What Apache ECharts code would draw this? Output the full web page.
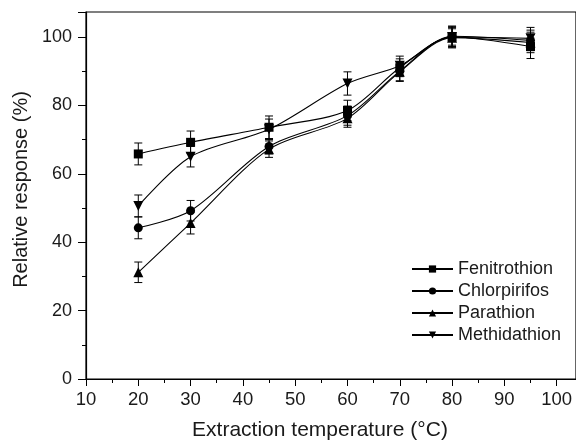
<!DOCTYPE html>
<html>
<head>
  <meta charset="UTF-8">
  <title>Extraction temperature</title>
  <script src="https://cdn.jsdelivr.net/npm/echarts@6/dist/echarts.min.js"></script>
  <style>
    html, body { margin: 0; padding: 0; background: #fff; }
    #main { width: 576px; height: 441px; }
  </style>
</head>
<body>
<div id="main"></div>
<script type="text/javascript">
  // temperatures (°C)
  var temps = [20, 30, 45, 60, 70, 80, 95];
  var names = ['Fenitrothion', 'Chlorpirifos', 'Parathion', 'Methidathion'];
  // relative response (%)
  var fenitrothion = [65.8, 69.2, 73.6, 78.5, 91.0, 100.0, 97.2];
  var chlorpirifos = [44.2, 49.2, 68.0, 77.0, 90.0, 100.2, 99.0];
  var parathion = [31.2, 45.6, 67.2, 76.2, 89.8, 99.8, 98.4];
  var methidathion = [50.6, 65.0, 73.0, 86.4, 91.6, 100.0, 99.6];
  // error bars (+/-)
  var errFen = [3.2, 3.3, 3.3, 3.0, 2.6, 3.0, 3.5];
  var errChl = [3.2, 3.0, 2.2, 2.8, 2.8, 2.6, 3.0];
  var errPar = [3.0, 3.2, 2.4, 2.6, 2.8, 2.6, 3.0];
  var errMet = [3.2, 3.0, 3.0, 3.4, 2.8, 3.2, 3.2];

  var values = [fenitrothion, chlorpirifos, parathion, methidathion];
  var errors = [errFen, errChl, errPar, errMet];
  var symbols = ['rect', 'circle', 'triangle', 'triangle'];
  var sizes = [9, 9, 10, 10];
  var rotates = [0, 0, 0, 180];

  var myChart = echarts.init(document.getElementById('main'));

  var series = [];
  names.forEach(function (n, i) {
    series.push({
      name: n,
      type: 'line',
      smooth: 0.3,
      data: temps.map(function (t, k) { return [t, values[i][k]]; }),
      symbol: symbols[i],
      symbolSize: sizes[i],
      symbolRotate: rotates[i],
      showAllSymbol: true,
      itemStyle: { color: '#000' },
      lineStyle: { color: '#000', width: 1.1 },
      z: 3
    });
    series.push({
      type: 'custom',
      silent: true,
      data: temps.map(function (t, k) {
        return [t, values[i][k] - errors[i][k], values[i][k] + errors[i][k]];
      }),
      renderItem: function (params, api) {
        var x = api.value(0);
        var lo = api.coord([x, api.value(1)]);
        var hi = api.coord([x, api.value(2)]);
        var w = 4;
        var st = { stroke: '#000', lineWidth: 1 };
        return {
          type: 'group',
          children: [
            { type: 'line', shape: { x1: lo[0], y1: lo[1], x2: hi[0], y2: hi[1] }, style: st },
            { type: 'line', shape: { x1: lo[0] - w, y1: lo[1], x2: lo[0] + w, y2: lo[1] }, style: st },
            { type: 'line', shape: { x1: hi[0] - w, y1: hi[1], x2: hi[0] + w, y2: hi[1] }, style: st }
          ]
        };
      },
      z: 2
    });
  });

  var option = {
    animation: false,
    backgroundColor: '#fff',
    textStyle: { fontFamily: 'Liberation Sans, Arial, sans-serif' },
    grid: {
      left: 86, right: 0, top: 12, bottom: 62,
      outerBoundsMode: 'none',
      show: true, borderColor: '#000', borderWidth: 1.2
    },
    legend: {
      orient: 'vertical',
      left: 406, top: 255,
      itemWidth: 41, itemHeight: 9,
      itemGap: 4,
      data: names,
      textStyle: {
        color: '#1a1a1a', fontSize: 18, lineHeight: 18,
        fontFamily: 'Liberation Sans, Arial, sans-serif'
      }
    },
    xAxis: {
      type: 'value',
      min: 10, max: 103.7, interval: 10,
      name: 'Extraction temperature (°C)',
      nameLocation: 'middle', nameGap: 41,
      nameTextStyle: { color: '#1a1a1a', fontSize: 21, padding: [0, 22, 0, 0] },
      axisLine: { lineStyle: { color: '#000', width: 1.2 } },
      axisTick: { inside: false, length: 7, lineStyle: { color: '#000' } },
      minorTick: { show: true, splitNumber: 2, length: 4, lineStyle: { color: '#000' } },
      axisLabel: { color: '#1a1a1a', fontSize: 18.5, margin: 11, showMaxLabel: false },
      splitLine: { show: false }
    },
    yAxis: {
      type: 'value',
      min: 0, max: 107.3, interval: 20,
      name: 'Relative response (%)',
      nameLocation: 'middle', nameGap: 55,
      nameTextStyle: { color: '#1a1a1a', fontSize: 20, padding: [0, 0, 0, 12] },
      axisLine: { show: true, lineStyle: { color: '#000', width: 1.2 } },
      axisTick: { show: true, inside: false, length: 8, lineStyle: { color: '#000' } },
      minorTick: { show: true, splitNumber: 2, length: 4, lineStyle: { color: '#000' } },
      axisLabel: { color: '#1a1a1a', fontSize: 18, margin: 14, showMaxLabel: false },
      splitLine: { show: false }
    },
    series: series
  };
  myChart.setOption(option);
</script>
</body>
</html>
